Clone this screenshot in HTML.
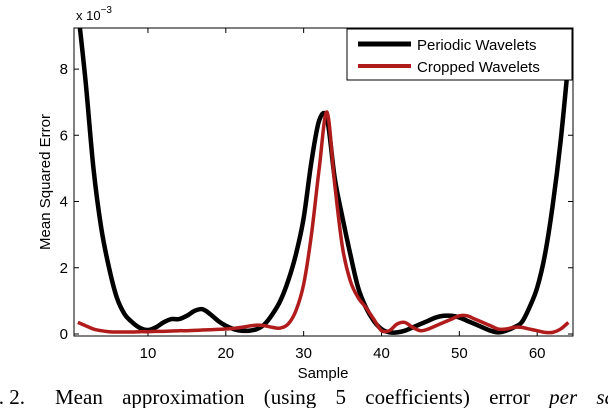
<!DOCTYPE html>
<html><head><meta charset="utf-8"><style>
body{margin:0;background:#fff;}
svg{display:block;font-family:"Liberation Sans",sans-serif;}
</style></head><body>
<svg id="chart" width="608" height="408">
<defs><clipPath id="clip"><rect x="74" y="28" width="499" height="308"/></clipPath></defs>
<rect x="74" y="28" width="499" height="308" fill="#fff" stroke="#000" stroke-width="1"/>
<g id="axes"></g>
<g id="series" clip-path="url(#clip)"></g>
<text x="76" y="20" font-size="13">x 10<tspan dy="-7" font-size="10">−3</tspan></text>
<text transform="translate(50,182) rotate(-90)" text-anchor="middle" font-size="15">Mean Squared Error</text>
<text x="323" y="378" text-anchor="middle" font-size="15">Sample</text>
<g>
<rect x="347" y="29" width="225" height="51" fill="#fff" stroke="#000" stroke-width="1"/>
<line x1="358" y1="44" x2="411" y2="44" stroke="#000" stroke-width="5"/>
<text x="417" y="50" font-size="15">Periodic Wavelets</text>
<line x1="358" y1="66" x2="411" y2="66" stroke="#b01c1c" stroke-width="4"/>
<text x="417" y="72" font-size="15">Cropped Wavelets</text>
</g>
<text x="25" y="404" text-anchor="end" font-family="Liberation Serif,serif" font-size="21">Fig. 2.</text>
<text x="55" y="404" font-family="Liberation Serif,serif" font-size="21" word-spacing="14">Mean approximation (using 5 coefficients) error <tspan font-style="italic">per sample</tspan></text>
</svg>
<script>
const samples = Array.from({length:64},(_,i)=>i+1);
const periodic = [9.8,7.6,5.0,3.2,2.0,1.1,0.6,0.35,0.18,0.12,0.2,0.35,0.45,0.45,0.55,0.7,0.75,0.6,0.4,0.25,0.15,0.1,0.1,0.15,0.3,0.6,1.0,1.6,2.4,3.5,5.2,6.45,6.5,4.7,3.5,2.4,1.4,0.8,0.4,0.15,0.05,0.05,0.1,0.2,0.3,0.4,0.5,0.55,0.55,0.5,0.4,0.3,0.2,0.1,0.05,0.1,0.2,0.35,0.8,1.4,2.4,3.9,5.8,8.2];
const cropped = [0.35,0.25,0.15,0.1,0.07,0.06,0.06,0.06,0.07,0.07,0.08,0.08,0.09,0.1,0.1,0.11,0.12,0.13,0.14,0.15,0.17,0.2,0.24,0.27,0.25,0.2,0.18,0.3,0.7,1.5,3.0,5.0,6.7,4.5,2.6,1.6,1.1,0.8,0.45,0.1,0.1,0.3,0.35,0.2,0.1,0.15,0.25,0.35,0.45,0.55,0.55,0.45,0.35,0.25,0.15,0.15,0.2,0.2,0.15,0.1,0.05,0.05,0.15,0.35];
const xTicks = [10,20,30,40,50,60];
const yTicks = [0,2,4,6,8];
const X0=74,X1=573,Y0=336,Y1=28, xmin=0.5,xmax=64.6,ymin=-0.06,ymax=9.24;
const xs=v=>X0+(v-xmin)/(xmax-xmin)*(X1-X0);
const ys=v=>Y0-(v-ymin)/(ymax-ymin)*(Y0-Y1);
const NS="http://www.w3.org/2000/svg";
const axes=document.getElementById('axes'), series=document.getElementById('series');
function mk(t,a,p){const e=document.createElementNS(NS,t);for(const k in a)e.setAttribute(k,a[k]);p.appendChild(e);return e;}
xTicks.forEach(t=>{
  const x=xs(t);
  const l=mk('path',{d:`M${x},${Y0}v-5M${x},${Y1}v5`,stroke:'#000','stroke-width':1},axes);
  
  
  const tx=mk('text',{x:x,y:358,'text-anchor':'middle','font-size':15},axes);tx.textContent=t;
  
  
});
yTicks.forEach(t=>{
  const y=ys(t);
  const l=mk('path',{d:`M${X0},${y}h5M${X1},${y}h-5`,stroke:'#000','stroke-width':1},axes);
  
  
  const tx=mk('text',{x:68,y:y+5,'text-anchor':'end','font-size':15},axes);tx.textContent=t;
  
  
});
function pathFor(vals){
  const p=vals.map((v,i)=>[xs(samples[i]),ys(v)]);
  let d=`M${p[0][0]},${p[0][1]}`;
  for(let i=0;i<p.length-1;i++){
    const a=p[Math.max(i-1,0)],b=p[i],c=p[i+1],e=p[Math.min(i+2,p.length-1)];
    d+=`C${b[0]+(c[0]-a[0])/6},${b[1]+(c[1]-a[1])/6} ${c[0]-(e[0]-b[0])/6},${c[1]-(e[1]-b[1])/6} ${c[0]},${c[1]}`;
  }
  return d;
}
const pl=mk('path',{d:pathFor(periodic),fill:'none',stroke:'#000','stroke-width':4.5,'stroke-linejoin':'round'},series);


const cl=mk('path',{d:pathFor(cropped),fill:'none',stroke:'#b01c1c','stroke-width':3.5,'stroke-linejoin':'round'},series);


</script>
</body></html>
